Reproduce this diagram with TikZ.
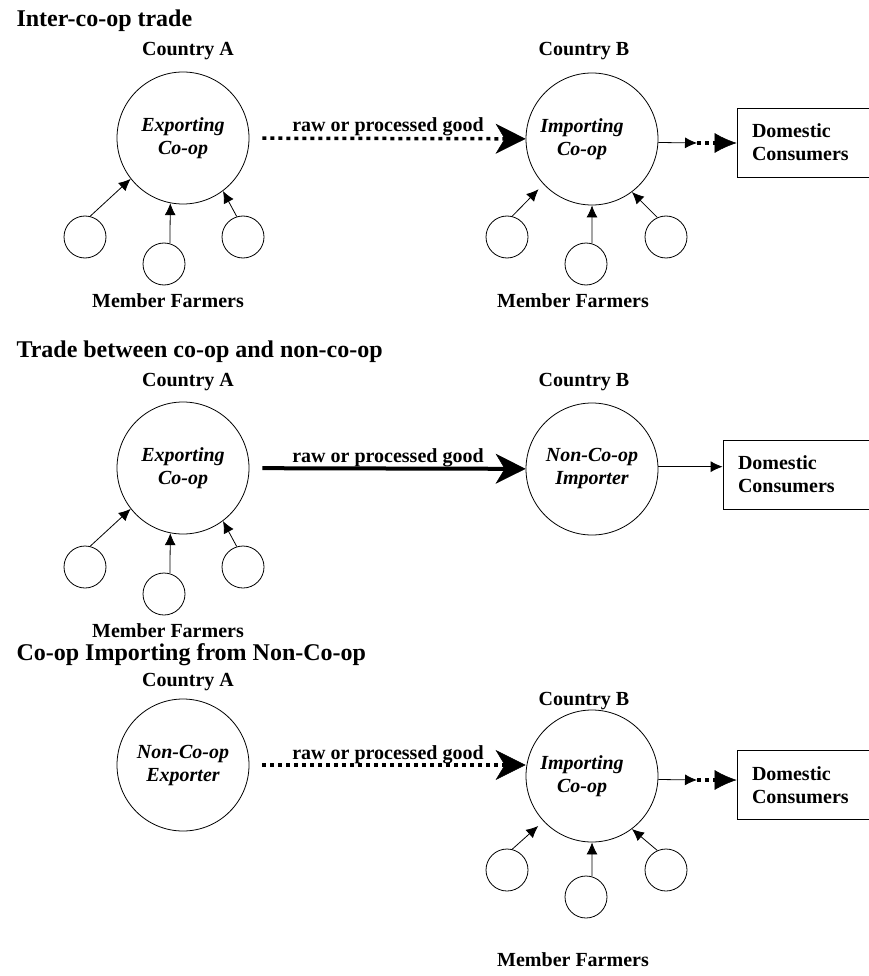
\documentclass[tikz,border=0pt]{standalone}
\usepackage{fontspec}
\setmainfont{Liberation Serif}
\usetikzlibrary{arrows.meta}

\begin{document}
\begin{tikzpicture}
  [x=1pt,y=-1pt,
   font=\fontsize{20}{23}\selectfont\bfseries,
   big/.style={circle,draw,line width=0.8pt,minimum size=132pt,inner sep=0pt,align=center,
     font=\fontsize{20}{23}\selectfont\bfseries\itshape},
   itx/.style={align=center,font=\fontsize{20}{23}\selectfont\bfseries\itshape},
   farm/.style={circle,draw,line width=0.8pt,minimum size=42pt,inner sep=0pt},
   cons/.style={draw,line width=0.8pt,minimum height=69pt,
     inner xsep=15pt,text width=#1,align=left},
   lbl/.style={anchor=base},
   head/.style={font=\fontsize{24}{28}\selectfont\bfseries,anchor=base west},
   feed/.style={line width=0.8pt,-{Latex[length=12pt,width=11pt]}},
   trade/.style={-{Stealth[length=30pt,width=30pt,inset=9pt,line width=0.5pt]}},
   dots/.style={line width=3.5pt,dash pattern=on 4pt off 4pt},
   bighead/.style={-{Latex[length=22pt,width=20pt,line width=0.5pt]}}]
  \useasboundingbox (0,0) rectangle (868,976);

  % inter-co-op trade
  \node[head] (t1) at (13,27) {Inter-co-op trade};
  \node[lbl] (ca1) at (188,56) {Country A};
  \node[lbl] (cb1) at (584,56) {Country B};
  \node[big] (exp1) at (183,138) {Exporting\\Co-op};
  \node[big] (imp1) at (592,139) {};
  \node[itx] (imp1t) at (582,139) {Importing\\Co-op};
  \node[lbl] (good1) at (388,132) {raw or processed good};
  \node[cons=103pt] (con1) at (803.5,142.5) {Domestic\\Consumers};
  \coordinate (m1) at (697,143);
  \node[farm] (f11) at (85,237) {};
  \node[farm] (f12) at (164,264) {};
  \node[farm] (f13) at (243,237) {};
  \node[farm] (f21) at (507,237) {};
  \node[farm] (f22) at (586,264) {};
  \node[farm] (f23) at (666,237) {};
  \node[lbl] (mf11) at (168,307) {Member Farmers};
  \node[lbl] (mf12) at (573,307) {Member Farmers};
  \draw[trade,dots,shorten <=13pt] (exp1) -- (imp1);
  \draw[feed] (imp1.-3.5) -- (m1);
  \draw[dots,bighead] (m1) -- (con1.west |- m1);
  \draw[feed] (f11.76) -- (exp1.218);
  \draw[feed] (f12.74) -- (exp1.259);
  \draw[feed] (f13.107) -- (exp1.307);
  \draw[feed,shorten >=7pt] (f21.76) -- (imp1.223);
  \draw[feed] (f22.74) -- (imp1.270);
  \draw[feed] (f23.114) -- (imp1.307);

  % co-op to non-co-op
  \node[head] (t2) at (13,357) {Trade between co-op and non-co-op};
  \node[lbl] (ca2) at (188,386) {Country A};
  \node[lbl] (cb2) at (584,386) {Country B};
  \node[big] (exp2) at (183,468) {Exporting\\Co-op};
  \node[big] (imp2) at (592,469) {Non-Co-op\\Importer};
  \node[lbl] (good2) at (388,462) {raw or processed good};
  \node[cons=117pt] (con2) at (796.5,474.5) {Domestic\\Consumers};
  \node[farm] (f31) at (85,567) {};
  \node[farm] (f32) at (164,594) {};
  \node[farm] (f33) at (243,567) {};
  \node[lbl] (mf2) at (168,637) {Member Farmers};
  \draw[trade,line width=4pt,shorten <=13pt] (exp2) -- (imp2);
  \draw[feed] (imp2.2) -- (imp2.2 -| con2.west);
  \draw[feed] (f31.76) -- (exp2.218);
  \draw[feed] (f32.74) -- (exp2.259);
  \draw[feed] (f33.107) -- (exp2.307);

  % co-op importing from non-co-op
  \node[head] (t3) at (13,660) {Co-op Importing from Non-Co-op};
  \node[lbl] (ca3) at (188,686) {Country A};
  \node[lbl] (cb3) at (584,705) {Country B};
  \node[big] (exp3) at (183,765) {Non-Co-op\\Exporter};
  \node[big] (imp3) at (592,776) {};
  \node[itx] (imp3t) at (582,776) {Importing\\Co-op};
  \node[lbl] (good3) at (388,759) {raw or processed good};
  \node[cons=103pt] (con3) at (803.5,785) {Domestic\\Consumers};
  \coordinate (m3) at (697,780);
  \node[farm] (f41) at (507,870) {};
  \node[farm] (f42) at (586,897) {};
  \node[farm] (f43) at (666,870) {};
  \node[lbl] (mf3) at (573,966) {Member Farmers};
  \draw[trade,dots,shorten <=13pt] (exp3.east) -- (exp3.east -| imp3.west);
  \draw[feed] (imp3.-3.5) -- (m3);
  \draw[dots,bighead] (m3) -- (con3.west |- m3);
  \draw[feed,shorten >=7pt] (f41.76) -- (imp3.223);
  \draw[feed] (f42.74) -- (imp3.270);
  \draw[feed] (f43.114) -- (imp3.307);
\end{tikzpicture}
\end{document}
